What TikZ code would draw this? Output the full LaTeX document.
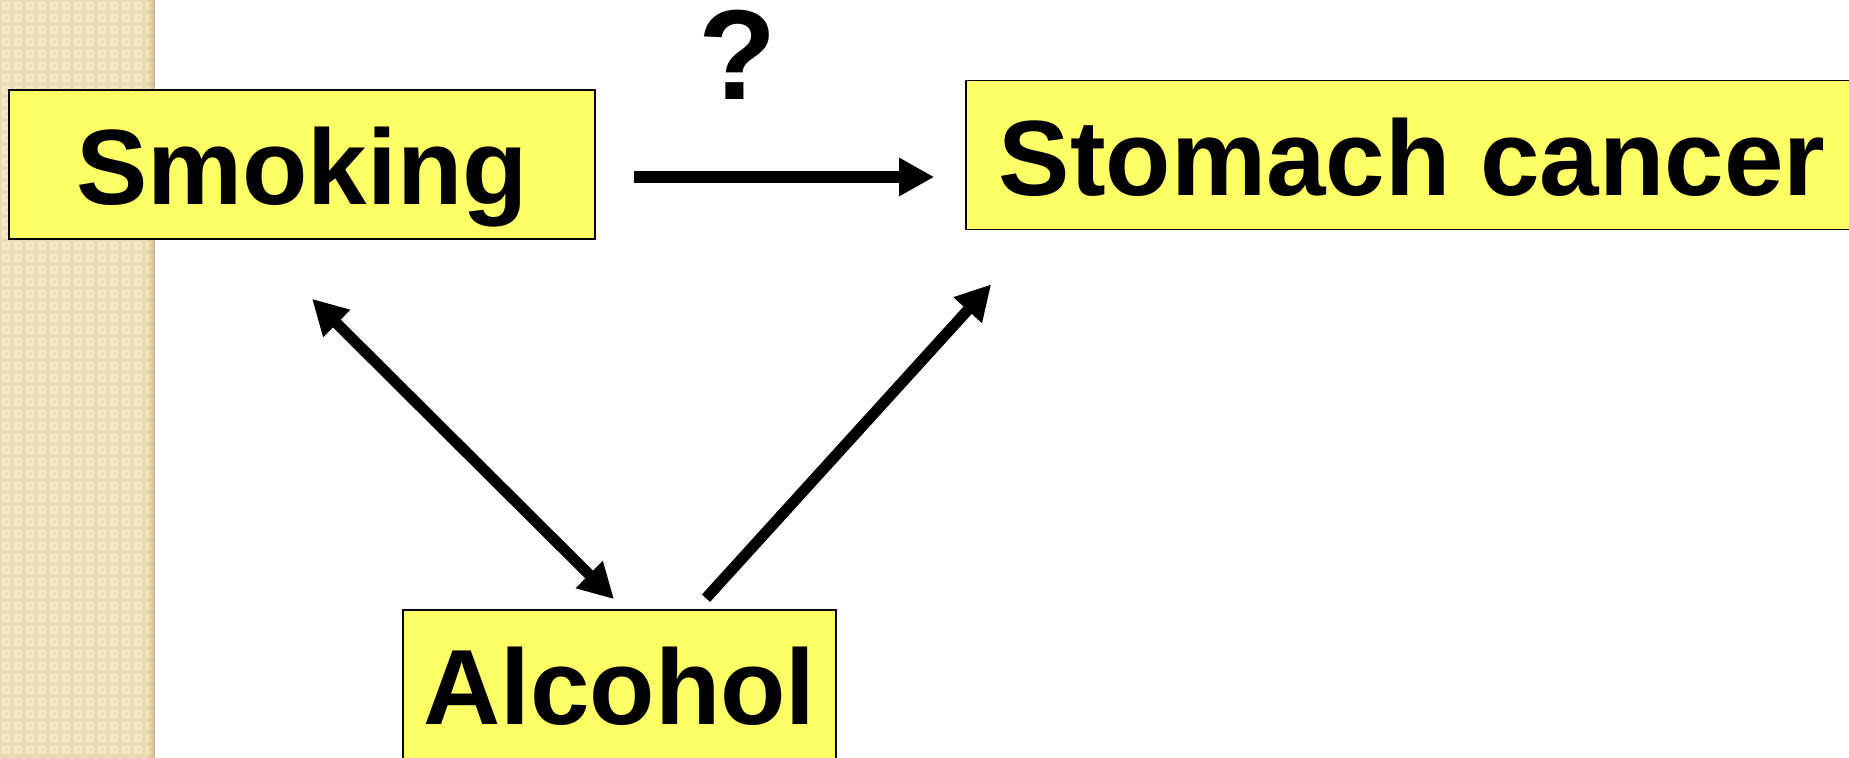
\documentclass[tikz,border=0pt]{standalone}
\usepackage{fontspec}
\setmainfont{Liberation Sans}
\usetikzlibrary{arrows.meta, positioning, calc}

\definecolor{boxyellow}{RGB}{255,255,102}
\definecolor{stripdark}{RGB}{236,218,180}
\definecolor{striplight}{RGB}{248,233,198}
\definecolor{stripedge}{RGB}{190,165,120}

\begin{document}
\begin{tikzpicture}[
  x=0.5pt, y=-0.5pt,
  font=\fontsize{53.5}{60}\selectfont\bfseries,
  >={Triangle[length=17.5pt, width=18pt]},
  factor/.style={draw, line width=0.8pt, fill=boxyellow, inner xsep=0pt, inner ysep=0pt,
    text height=57.5pt, text depth=17pt, align=center},
  arr/.style={->, line width=5.5pt},
]
  \useasboundingbox (0,0) rectangle (1849,758);

  % textured side strip
  \fill[stripdark] (0,0) rectangle (155,758);
  \foreach \i in {0,...,12}
    \foreach \j in {0,...,63} {
      \fill[striplight] (12*\i+2,12*\j+2) rectangle ++(8,8);
      \fill[stripdark] (12*\i+4.5,12*\j+4.5) rectangle ++(3,3);
    }
  \foreach \k in {1,...,4}
    \fill[stripedge, opacity=0.07*\k] (145+2*\k,0) rectangle (155,758);

  \node[factor, minimum width=293pt] (smoke) at (302,164.5) {Smoking};
  \node[factor, minimum width=446pt] (canc) at (1412,155) {Stomach cancer};
  \node[factor, minimum width=216.5pt] (alc) at (619.5,684.5) {Alcohol};

  \node[font=\fontsize{64}{70}\selectfont\bfseries, anchor=base] (q) at (738,100) {?};

  \draw[arr, line width=6pt] ([xshift=19pt, yshift=-6.25pt]smoke.east) -- ([xshift=-15.5pt, yshift=-11pt]canc.west);
  \draw[arr, <->] ([xshift=5pt, yshift=-29.5pt]smoke.south) -- ([xshift=-2.75pt, yshift=5pt]alc.north);
  \draw[arr] ([xshift=43.25pt, yshift=5.5pt]alc.north) -- ([xshift=13pt, yshift=-27pt]canc.south west);
\end{tikzpicture}
\end{document}
